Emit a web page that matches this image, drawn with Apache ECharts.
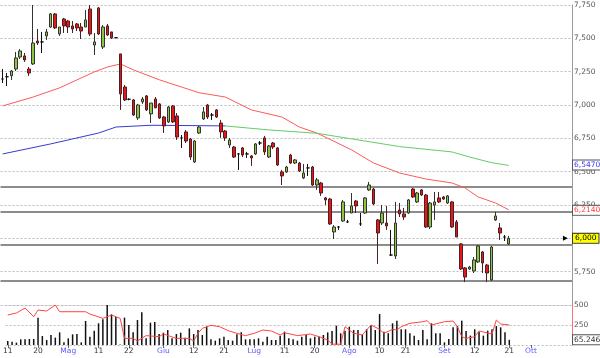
<!DOCTYPE html>
<html><head><meta charset="utf-8">
<script src="https://cdn.jsdelivr.net/npm/echarts@6/dist/echarts.min.js"></script>
<style>html,body{margin:0;padding:0;background:#fff}#c{width:600px;height:358px}</style>
</head><body><div id="c"></div>
<script>
const openP = [7.195,7.212,7.220,7.270,7.360,7.368,7.270,7.308,7.480,7.473,7.518,7.585,7.683,7.533,7.645,7.630,7.593,7.608,7.585,7.585,
7.720,7.450,7.728,7.435,7.593,7.548,7.505,7.383,7.135,7.043,7.038,6.903,7.023,7.068,6.933,7.045,7.008,6.910,6.873,6.993,
6.918,6.753,6.798,6.745,6.573,6.790,6.895,7.000,6.925,6.963,6.865,6.805,6.700,6.685,6.633,6.678,6.633,6.618,6.633,6.715,
6.753,6.610,6.715,6.678,6.498,6.498,6.625,6.565,6.565,6.453,6.528,6.535,6.400,6.415,6.303,6.295,6.048,6.085,6.130,6.123,
6.190,6.280,6.108,6.190,6.363,6.370,6.138,6.115,6.115,5.875,5.868,6.213,6.183,6.190,6.370,6.273,6.363,6.325,6.085,6.250,
6.303,6.310,6.265,6.273,6.123,5.958,5.778,5.770,5.755,5.823,5.898,5.800,5.688,6.138,6.078,6.010,5.958];
const closeP = [7.195,7.212,7.255,7.353,7.405,7.338,7.240,7.465,7.465,7.473,7.548,7.683,7.578,7.585,7.593,7.585,7.570,7.578,7.555,7.638,
7.533,7.473,7.533,7.585,7.525,7.503,7.505,7.083,7.038,7.043,6.925,7.000,7.045,6.963,7.015,6.978,6.903,6.843,6.985,6.873,
6.760,6.753,6.730,6.610,6.730,6.835,6.948,6.910,6.925,6.910,6.798,6.753,6.738,6.610,6.633,6.625,6.633,6.603,6.708,6.715,
6.648,6.693,6.685,6.550,6.468,6.535,6.565,6.588,6.505,6.490,6.528,6.400,6.438,6.340,6.288,6.108,6.085,6.085,6.273,6.123,
6.243,6.243,6.108,6.303,6.400,6.258,6.040,6.190,6.093,5.875,6.115,6.183,6.160,6.288,6.310,6.340,6.325,6.085,6.265,6.273,
6.273,6.295,6.318,6.085,6.010,5.770,5.710,5.785,5.838,5.943,5.815,5.740,5.935,6.168,6.040,6.010,6.000];
const lowP = [7.165,7.142,7.188,7.255,7.345,7.323,7.218,7.300,7.450,7.390,7.488,7.578,7.570,7.518,7.540,7.540,7.540,7.555,7.495,7.585,
7.518,7.375,7.525,7.420,7.518,7.495,7.500,6.963,7.030,7.035,6.918,6.888,7.008,6.955,6.865,6.978,6.895,6.790,6.865,6.865,
6.738,6.678,6.715,6.588,6.565,6.783,6.888,6.895,6.888,6.903,6.753,6.730,6.678,6.603,6.513,6.610,6.603,6.543,6.625,6.700,
6.625,6.603,6.670,6.543,6.400,6.490,6.558,6.558,6.498,6.445,6.468,6.393,6.363,6.318,6.250,6.100,5.995,6.063,6.123,6.115,
6.190,6.190,6.093,6.183,6.355,6.250,5.808,6.100,6.063,5.868,5.845,6.160,6.138,6.183,6.303,6.265,6.318,6.078,6.070,6.138,
6.265,6.288,6.258,6.078,6.010,5.763,5.672,5.763,5.740,5.815,5.740,5.672,5.680,6.130,5.988,5.980,5.950];
const highP = [7.270,7.240,7.263,7.398,7.420,7.390,7.285,7.750,7.570,7.548,7.570,7.690,7.690,7.585,7.653,7.638,7.630,7.615,7.615,7.713,
7.750,7.540,7.735,7.600,7.608,7.548,7.510,7.383,7.150,7.050,7.045,7.008,7.060,7.075,7.015,7.060,7.015,6.918,6.993,7.000,
6.940,6.775,6.813,6.753,6.738,6.843,6.985,7.008,6.940,6.970,6.888,6.813,6.753,6.693,6.640,6.685,6.648,6.625,6.715,6.730,
6.768,6.700,6.723,6.685,6.513,6.543,6.633,6.595,6.573,6.558,6.558,6.543,6.453,6.423,6.310,6.303,6.100,6.093,6.288,6.138,
6.340,6.288,6.190,6.310,6.423,6.378,6.145,6.250,6.243,6.063,6.273,6.265,6.228,6.295,6.378,6.348,6.370,6.333,6.273,6.348,
6.348,6.318,6.325,6.280,6.138,5.965,5.785,5.793,5.860,5.950,5.905,5.808,5.943,6.198,6.115,6.025,6.018];
const volume = [50,42,30,71,71,75,75,342,112,62,125,92,158,33,83,133,137,33,300,104,
179,271,321,500,383,350,5,342,250,158,312,408,83,279,287,137,154,187,83,137,
154,92,208,137,187,125,229,71,54,83,104,62,54,133,158,71,71,71,83,42,
104,62,62,117,167,83,71,54,104,125,83,104,104,125,158,175,242,146,179,229,
187,187,133,196,250,187,387,167,146,271,304,196,196,146,117,62,187,71,271,146,
146,33,75,221,237,304,175,117,196,167,117,179,196,237,221,158,65];
const maShortIdx = [0,7,13,17,21,24,27,30,36,45,51,57,64,68,72,80,85,91,97,103,106,109,113,116];
const maShortVal = [6.993,7.060,7.128,7.188,7.248,7.285,7.308,7.263,7.188,7.092,7.060,6.963,6.910,6.835,6.790,6.663,6.565,6.490,6.445,6.415,6.378,6.310,6.265,6.214];
const maLongIdx = [0,11,22,26,34,45,51,61,72,91,103,107,112,116];
const maLongVal = [6.633,6.708,6.790,6.835,6.848,6.845,6.843,6.813,6.788,6.688,6.648,6.610,6.568,6.547];
const maLongSplit = 51;
const volLineIdx = [0,2,4,6,7,9,11,12,18,19,22,24,26,27,29,30,32,35,36,39,42,43,44,45,47,49,51,53,55,57,59,61,63,64,67,70,72,74,75,77,78,80,82,84,86,87,89,90,91,93,96,97,98,101,103,104,105,106,108,109,112,113,114,116];
const volLineVal = [375,400,462,354,437,425,500,416,416,387,333,375,333,83,83,50,117,104,137,83,83,50,146,208,246,229,179,146,117,146,187,175,125,154,117,137,104,62,10,10,229,146,125,250,196,146,196,187,229,271,291,304,250,291,300,229,104,83,104,175,137,312,262,250];
const supportLevels = [6.392, 6.195, 5.945, 5.685];
const tickIdx = [0,7,14,21,28,36,43,50,57,64,71,79,86,92,101,108,116,121];
const tickText = ['11','20','Mag','11','22','Giu','12','21','Lug','11','20','Ago','10','21','Set','12','21','Ott'];
const monthNames = ['Mag','Giu','Lug','Ago','Set','Ott'];
const categoryCount = 131;
const lastPrice = 6.000, lastShortMA = 6.214, lastLongMA = 6.547, lastVolume = 65.246;

const cats = Array.from({length: categoryCount}, (_, i) => String(i));
const ohlc = openP.map((o, i) => [o, closeP[i], lowP[i], highP[i]]);
const maShort = maShortIdx.map((x, i) => [x, maShortVal[i]]);
const maLongA = [], maLongB = [];
maLongIdx.forEach((x, i) => {
  if (x <= maLongSplit) maLongA.push([x, maLongVal[i]]);
  if (x >= maLongSplit) maLongB.push([x, maLongVal[i]]);
});
const volLine = volLineIdx.map((x, i) => [x, volLineVal[i]]);
const FONT = 'DejaVu Sans';
const fmt = v => v.toFixed(3).replace('.', ',');

const chart = echarts.init(document.getElementById('c'), null, {renderer: 'canvas'});
chart.setOption({
  animation: false,
  backgroundColor: '#ffffff',
  textStyle: {fontFamily: FONT},
  grid: [
    {left: 0.5, right: 28, top: 5, height: 300},
    {left: 0.5, right: 28, top: 305, height: 40}
  ],
  xAxis: [
    {type: 'category', gridIndex: 0, data: cats, axisLine: {show: false}, axisTick: {show: false}, axisLabel: {show: false}, splitLine: {show: false}},
    {type: 'category', gridIndex: 1, data: cats, axisLine: {show: false},
     axisTick: {show: true, alignWithLabel: true, length: 3, interval: (i) => tickIdx.includes(i), lineStyle: {color: '#666'}},
     axisLabel: {interval: (i) => tickIdx.includes(i), margin: 2,
       formatter: (v, i) => { const k = tickIdx.indexOf(i); if (k < 0) return ''; const t = tickText[k]; return monthNames.includes(t) ? '{m|' + t + '}' : '{d|' + t + '}'; },
       rich: {m: {color: '#5b5bff', fontSize: 7.5, fontFamily: FONT}, d: {color: '#333', fontSize: 7.5, fontFamily: FONT}}},
     splitLine: {show: false}}
  ],
  yAxis: [
    {type: 'value', gridIndex: 0, position: 'right', min: 5.5, max: 7.75, interval: 0.25,
     axisLine: {show: true, lineStyle: {color: '#9a9a9a'}}, axisTick: {show: false},
     axisLabel: {margin: 2, fontSize: 7.5, color: '#555', fontFamily: FONT, formatter: v => Math.abs(v - 5.5) < 1e-6 ? '' : fmt(v)},
     splitLine: {show: true, lineStyle: {color: '#bdbdbd', type: [2, 2], width: 1}}},
    {type: 'value', gridIndex: 1, position: 'right', min: 0, max: 500, interval: 250,
     axisLine: {show: true, lineStyle: {color: '#ff7070'}}, axisTick: {show: false},
     axisLabel: {margin: 2, fontSize: 7.5, color: '#555', fontFamily: FONT, formatter: v => v === 0 ? '' : String(v)},
     splitLine: {show: true, lineStyle: {color: '#bdbdbd', type: [2, 2], width: 1}}}
  ],
  series: [
    {type: 'line', xAxisIndex: 0, yAxisIndex: 0, data: maShort, showSymbol: false, lineStyle: {color: '#ff5a5a', width: 1}, z: 3},
    {type: 'line', xAxisIndex: 0, yAxisIndex: 0, data: maLongA, showSymbol: false, lineStyle: {color: '#3a3ad0', width: 1}, z: 3},
    {type: 'line', xAxisIndex: 0, yAxisIndex: 0, data: maLongB, showSymbol: false, lineStyle: {color: '#66cc66', width: 1}, z: 3},
    {type: 'candlestick', xAxisIndex: 0, yAxisIndex: 0, data: ohlc, barWidth: 3, z: 4,
     itemStyle: {color: '#8cc63e', color0: '#e8161b', borderColor: '#333', borderColor0: '#4a2020', borderColorDoji: '#111', borderWidth: 1},
     markLine: {silent: true, symbol: 'none', animation: false, z: 2,
       data: supportLevels.map(v => ({yAxis: v, lineStyle: {color: '#8c8c8c', width: 2, type: 'solid'}, label: {show: false}})).concat([
         {yAxis: lastLongMA, lineStyle: {width: 0}, label: {show: true, position: 'end', distance: 1, formatter: lastLongMA.toFixed(4).replace('.', ','), color: '#3a3aff', backgroundColor: '#fff', borderColor: '#555', borderWidth: 1, padding: [1, 1, 0, 1], fontSize: 7.5, fontFamily: FONT}},
         {yAxis: lastShortMA, lineStyle: {width: 0}, label: {show: true, position: 'end', distance: 1, formatter: lastShortMA.toFixed(4).replace('.', ','), color: '#ff4040', backgroundColor: '#fff', borderColor: '#555', borderWidth: 1, padding: [1, 1, 0, 1], fontSize: 7.5, fontFamily: FONT}},
         {yAxis: lastPrice, lineStyle: {width: 0}, label: {show: true, position: 'end', distance: 1, formatter: fmt(lastPrice), color: '#000', backgroundColor: '#ffff00', borderColor: '#333', borderWidth: 1, padding: [1, 2, 0, 2], fontSize: 7.5, fontFamily: FONT}}
       ])},
     markPoint: {silent: true, animation: false, data: [{coord: [129, lastPrice], symbol: 'triangle', symbolSize: [5, 5], symbolRotate: -90, itemStyle: {color: '#000'}, label: {show: false}}]}
    },
    {type: 'bar', xAxisIndex: 1, yAxisIndex: 1, data: volume, barWidth: 1.5, itemStyle: {color: '#111'}, z: 2,
     markLine: {silent: true, symbol: 'none', animation: false,
       data: [{yAxis: lastVolume, lineStyle: {width: 0}, label: {show: true, position: 'end', distance: 1, formatter: lastVolume.toFixed(3), color: '#333', backgroundColor: '#fff', borderColor: '#555', borderWidth: 1, padding: [1, 1, 0, 1], fontSize: 7.5, fontFamily: FONT}}]}},
    {type: 'line', xAxisIndex: 1, yAxisIndex: 1, data: volLine, showSymbol: false, lineStyle: {color: '#ff4444', width: 1}, z: 3}
  ]
});
</script>
</body></html>
